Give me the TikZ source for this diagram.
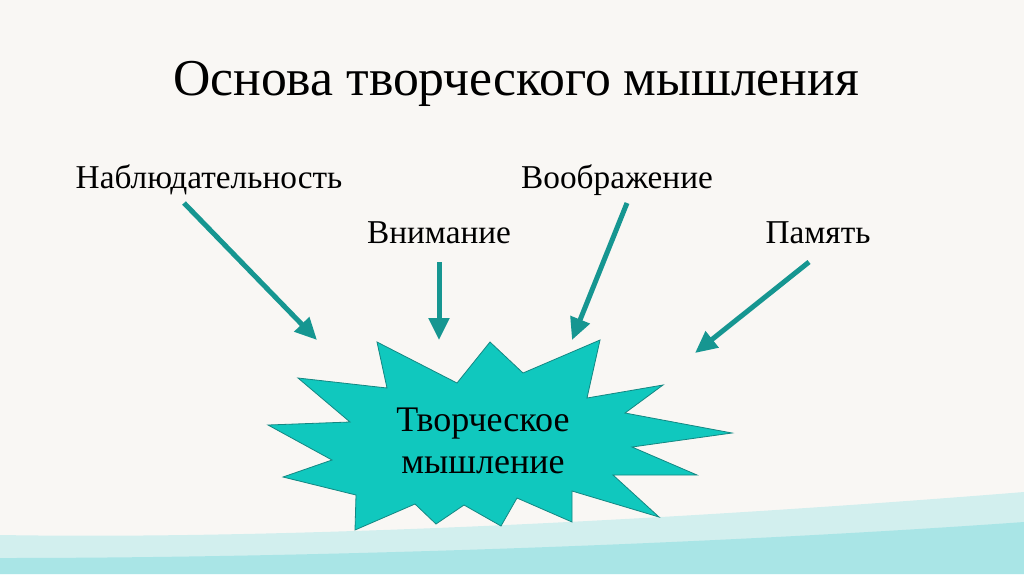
\documentclass[tikz,border=0pt]{standalone}
\usepackage{fontspec}
\setmainfont{Liberation Serif}
\usetikzlibrary{arrows.meta}
\definecolor{paper}{RGB}{249,247,244}
\definecolor{starfill}{RGB}{16,200,190}
\definecolor{staredge}{RGB}{20,135,130}
\definecolor{arrowc}{RGB}{22,150,145}
\definecolor{wash}{RGB}{185,234,235}
\definecolor{washdark}{RGB}{130,220,224}
\begin{document}
\begin{tikzpicture}[x=1pt,y=-1pt,
  lbl/.style={inner sep=0pt, anchor=center, text=black, font=\fontsize{33.3}{38}\selectfont},
  ptr/.style={draw=arrowc, line width=5pt, -{Triangle[length=22pt,width=20pt]}},
  star/.style={fill=starfill, draw=staredge, line width=0.8pt, line join=miter}
]
\useasboundingbox (0,0) rectangle (1024,574);
\fill[paper] (0,0) rectangle (1024,574);
% watercolour wash at the bottom
\fill[wash, opacity=0.6] (0,535) .. controls (300,540) and (700,518) .. (1024,492) -- (1024,574) -- (0,574) -- cycle;
\fill[washdark, opacity=0.5] (0,558) .. controls (300,558) and (700,545) .. (1024,522) -- (1024,574) -- (0,574) -- cycle;

% title
\node[inner sep=0pt, font=\fontsize{51.7}{58}\selectfont] (title) at (516,84) {Основа творческого мышления};

% labels
\node[lbl] (nabl) at (209,180) {Наблюдательность};
\node[lbl] (vnim) at (439,233) {Внимание};
\node[lbl] (voob) at (617,180) {Воображение};
\node[lbl] (pam)  at (818,233) {Память};

% starburst
\path[star] (377,342) -- (457,383) -- (490,342) -- (523,373) -- (600,340) -- (587,398)
  -- (663,385) -- (625,413) -- (732,433) -- (632,447) -- (697,475) -- (613,475)
  -- (659,517) -- (572,491) -- (572,522) -- (517,498) -- (501,526) -- (464,505)
  -- (436,524) -- (415,504) -- (355,530) -- (356,495) -- (283,477) -- (332,460)
  -- (268,425) -- (350,422) -- (298,378) -- (387,388) -- cycle;
\node[inner sep=0pt, align=center, font=\fontsize{36}{42}\selectfont] (core) at (483,441) {Творческое\\мышление};

% arrow end points
\coordinate (a1s) at (184,203); \coordinate (a1e) at (317,340);
\coordinate (a2s) at (439,262); \coordinate (a2e) at (439,340);
\coordinate (a3s) at (627,203); \coordinate (a3e) at (572,340);
\coordinate (a4s) at (809,262); \coordinate (a4e) at (695,353);
\draw[ptr] (a1s) -- (a1e);
\draw[ptr] (a2s) -- (a2e);
\draw[ptr] (a3s) -- (a3e);
\draw[ptr] (a4s) -- (a4e);
\end{tikzpicture}
\end{document}
